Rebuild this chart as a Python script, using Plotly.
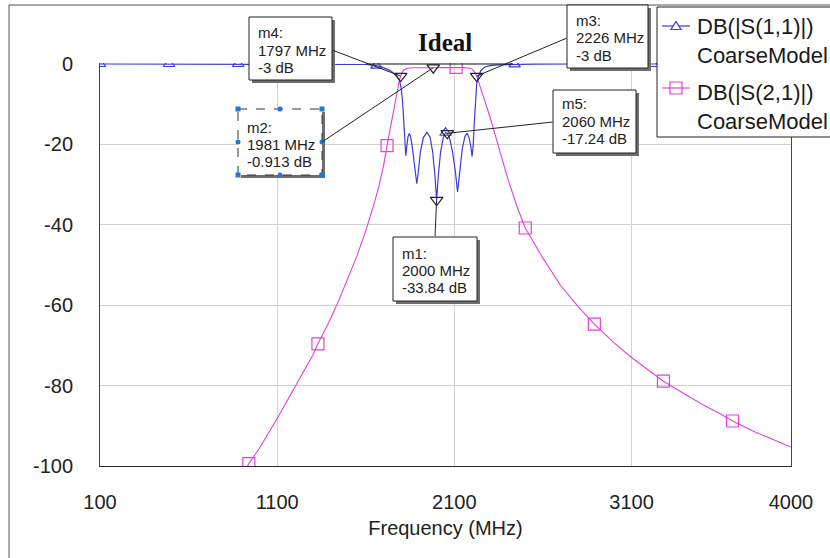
import plotly.graph_objects as go

# ---- filter response data (frequency in MHz, level in dB) ----
s11_freq = [100, 490, 880, 1000, 1270, 1400, 1500, 1600, 1660, 1700, 1740, 1770, 1790,
            1800, 1808, 1815, 1821, 1826, 1832, 1838, 1845, 1853, 1862, 1872, 1881, 1888,
            1896, 1908, 1925, 1945, 1963, 1978, 1990, 2000, 2010, 2022, 2038, 2050, 2060,
            2075, 2090, 2105, 2118, 2130, 2145, 2160, 2172, 2183, 2193, 2200, 2206, 2212,
            2219, 2226, 2235, 2250, 2270, 2300, 2350, 2440, 2550, 2830, 3220, 3610, 4000]
s11_db = [0, 0, 0, 0, 0, -0.01, -0.03, -0.12, -0.4, -0.9, -1.7, -2.8, -4.0,
          -6.0, -9.5, -14.0, -19.5, -22.8, -20.3, -18.2, -17.3, -18.0, -20.5, -24.5, -28.0, -29.8,
          -27.0, -22.0, -18.3, -17.0, -18.2, -22.0, -27.5, -33.84, -27.5, -22.0, -18.2, -17.1, -17.24,
          -18.8, -22.0, -26.5, -31.8, -26.5, -21.0, -18.0, -17.2, -18.3, -20.5, -23.0, -20.5, -15.0,
          -9.0, -5.0, -3.2, -1.6, -0.8, -0.4, -0.2, -0.08, -0.03, 0, 0, 0, 0]

s21_freq = [700, 800, 900, 940, 1000, 1100, 1200, 1300, 1330, 1400, 1450, 1500, 1550, 1600,
            1624, 1650, 1675, 1700, 1720, 1735, 1750, 1765, 1780, 1790, 1797, 1805, 1815, 1833,
            1860, 1900, 1950, 1981, 2000, 2050, 2110, 2150, 2180, 2200, 2215, 2226, 2240, 2260,
            2284, 2300, 2320, 2358, 2400, 2450, 2500, 2600, 2700, 2800, 2890, 3000, 3100, 3200,
            3280, 3400, 3500, 3600, 3670, 3800, 3900, 4000]
s21_db = [-118.0, -110.3, -102.9, -99.4, -95.6, -88.2, -80.4, -72.5, -69.6, -63.5, -58.6, -53.4, -47.8, -41.5,
          -38.3, -34.3, -30.2, -25.4, -20.3, -16.8, -13.0, -10.0, -5.9, -4.0, -3.0, -2.1, -1.5, -1.05,
          -0.92, -0.86, -0.88, -0.913, -0.9, -0.86, -0.85, -0.9, -1.0, -1.3, -2.0, -3.0, -4.9, -7.5,
          -10.7, -13.0, -16.0, -21.6, -28.3, -35.0, -40.8, -48.3, -55.1, -60.4, -64.7, -69.3, -73.0, -76.3,
          -78.9, -82.1, -84.7, -87.0, -88.8, -91.6, -93.5, -95.3]

# frequencies where the trace symbols sit
s11_symbol_freq = [100, 490, 880, 1270, 1660, 2050, 2440, 2830, 3220, 3610, 4000]
s21_symbol_freq = [940, 1330, 1720, 2110, 2500, 2890, 3280, 3670]

# ideal passband reference
ideal_freq = [1600, 2430]
ideal_db = [0, 0]

# readout markers
marker_names = ["m1", "m2", "m3", "m4", "m5"]
marker_freq = [2000, 1981, 2226, 1797, 2060]
marker_db = [-33.84, -0.913, -3, -3, -17.24]

x_ticks = [100, 1100, 2100, 3100, 4000]
y_ticks = [0, -20, -40, -60, -80, -100]

legend_lines = [["DB(|S(1,1)|)", "CoarseModel"], ["DB(|S(2,1)|)", "CoarseModel"]]

BLUE = "#3c3cdc"
MAGENTA = "#e040e0"
FONT = "Liberation Sans, Arial, sans-serif"

# ---- page geometry (pixels) ----
W, H = 830, 558
PL, PR, PT, PB = 100, 791, 63, 466
X_RANGE = [100, 4000]
Y_RANGE = [-100, 0.25]


def xp(px):
    return (px - PL) / (PR - PL)


def yp(py):
    return (PB - py) / (PB - PT)


def xd(px):
    return X_RANGE[0] + (px - PL) * (X_RANGE[1] - X_RANGE[0]) / (PR - PL)


def yd(py):
    return Y_RANGE[0] + (PB - py) * (Y_RANGE[1] - Y_RANGE[0]) / (PB - PT)


s11_lookup = dict(zip(s11_freq, s11_db))
s21_lookup = dict(zip(s21_freq, s21_db))

fig = go.Figure()

fig.add_trace(go.Scatter(x=s21_freq, y=s21_db, mode="lines",
                         line=dict(color=MAGENTA, width=1.1), showlegend=False,
                         name="DB(|S(2,1)|) CoarseModel"))
fig.add_trace(go.Scatter(x=s21_symbol_freq, y=[s21_lookup[f] for f in s21_symbol_freq],
                         mode="markers", showlegend=False,
                         marker=dict(symbol="square-open", size=12, color=MAGENTA,
                                     line=dict(width=1.2, color=MAGENTA))))
fig.add_trace(go.Scatter(x=s11_freq, y=s11_db, mode="lines",
                         line=dict(color=BLUE, width=1.2), showlegend=False,
                         name="DB(|S(1,1)|) CoarseModel"))
fig.add_trace(go.Scatter(x=s11_symbol_freq, y=[s11_lookup[f] for f in s11_symbol_freq],
                         mode="markers", showlegend=False,
                         marker=dict(symbol="triangle-up-open", size=10, color=BLUE,
                                     line=dict(width=1.2, color=BLUE))))
fig.add_trace(go.Scatter(x=ideal_freq, y=ideal_db, mode="lines",
                         line=dict(color="#111111", width=1.2), showlegend=False))
fig.add_trace(go.Scatter(x=marker_freq, y=marker_db, mode="markers", showlegend=False,
                         marker=dict(symbol="triangle-down-open", size=11, color="#222222",
                                     line=dict(width=1.2, color="#222222"))))

shapes = []
annotations = []

# outer frame of the graph window
shapes.append(dict(type="rect", xref="paper", yref="paper",
                   x0=xp(9), x1=xp(W + 40), y0=yp(5), y1=yp(H + 40),
                   line=dict(color="#555555", width=1), fillcolor="rgba(0,0,0,0)", layer="below"))

# marker readout boxes: pixel box, first text line centre, leader start
boxes = {
    "m4": dict(box=(249, 17, 332, 80), line0=33, tail=(332, 50)),
    "m3": dict(box=(567, 5, 648, 68), line0=21, tail=(567, 38)),
    "m5": dict(box=(553, 90, 636, 153), line0=104, tail=(553, 122)),
    "m2": dict(box=(238, 109, 322, 175), line0=127, tail=(322, 142), selected=True),
    "m1": dict(box=(393, 237, 477, 301), line0=253, tail=(435, 237)),
}

for name, f, v in zip(marker_names, marker_freq, marker_db):
    b = boxes[name]
    x0, y0, x1, y1 = b["box"]
    # leader line from the box to the marker
    annotations.append(dict(x=f, y=v, xref="x", yref="y", axref="x", ayref="y",
                            ax=xd(b["tail"][0]), ay=yd(b["tail"][1]),
                            text=" ", font=dict(size=1), borderpad=0,
                            showarrow=True, arrowhead=0, arrowwidth=1, arrowcolor="#222222"))
    # drop shadow
    shapes.append(dict(type="rect", xref="paper", yref="paper",
                       x0=xp(x0 + 3), x1=xp(x1 + 3), y0=yp(y0 + 3), y1=yp(y1 + 3),
                       line=dict(width=0), fillcolor="#6e6e6e", layer="above"))
    if b.get("selected"):
        shapes.append(dict(type="rect", xref="paper", yref="paper",
                           x0=xp(x0), x1=xp(x1), y0=yp(y0), y1=yp(y1),
                           line=dict(color="#333333", width=1, dash="dash"),
                           fillcolor="white", layer="above"))
        xm, ym = (x0 + x1) / 2, (y0 + y1) / 2
        for hx, hy in [(x0, y0), (x1, y0), (x0, y1), (x1, y1)]:
            shapes.append(dict(type="rect", xref="paper", yref="paper",
                               x0=xp(hx - 2.5), x1=xp(hx + 2.5), y0=yp(hy - 2.5), y1=yp(hy + 2.5),
                               line=dict(width=0), fillcolor="#1f78d1", layer="above"))
        for hx, hy in [(xm, y0), (x0, ym), (x1, ym), (xm, y1)]:
            shapes.append(dict(type="circle", xref="paper", yref="paper",
                               x0=xp(hx - 2.5), x1=xp(hx + 2.5), y0=yp(hy - 2.5), y1=yp(hy + 2.5),
                               line=dict(width=0), fillcolor="#1f78d1", layer="above"))
    else:
        shapes.append(dict(type="rect", xref="paper", yref="paper",
                           x0=xp(x0), x1=xp(x1), y0=yp(y0), y1=yp(y1),
                           line=dict(color="#222222", width=1),
                           fillcolor="white", layer="above"))
    lines = [f"{name}:", f"{f} MHz", f"{v:g} dB"]
    for i, txt in enumerate(lines):
        annotations.append(dict(x=xp(x0 + 7), y=yp(b["line0"] + 17 * i), xref="paper", yref="paper",
                                text=txt, showarrow=False, xanchor="left", yanchor="middle",
                                font=dict(family=FONT, size=15, color="#222222")))

# title over the passband
annotations.append(dict(x=xp(445), y=yp(42), xref="paper", yref="paper", text="<b>Ideal</b>",
                        showarrow=False, xanchor="center", yanchor="middle",
                        font=dict(family="Liberation Serif, Times New Roman, serif", size=25,
                                  color="#111111")))

# legend box
shapes.append(dict(type="rect", xref="paper", yref="paper",
                   x0=xp(657), x1=xp(W + 30), y0=yp(7), y1=yp(137),
                   line=dict(color="#222222", width=1), fillcolor="white", layer="above"))
# legend sample: S11
shapes.append(dict(type="line", xref="paper", yref="paper",
                   x0=xp(662), x1=xp(690), y0=yp(26), y1=yp(26),
                   line=dict(color=BLUE, width=1.2), layer="above"))
shapes.append(dict(type="path", xref="paper", yref="paper",
                   path=f"M {xp(671)},{yp(29.5)} L {xp(681)},{yp(29.5)} L {xp(676)},{yp(21.5)} Z",
                   line=dict(color=BLUE, width=1.2), fillcolor="white", layer="above"))
# legend sample: S21
shapes.append(dict(type="line", xref="paper", yref="paper",
                   x0=xp(662), x1=xp(690), y0=yp(88), y1=yp(88),
                   line=dict(color=MAGENTA, width=1.2), layer="above"))
shapes.append(dict(type="rect", xref="paper", yref="paper",
                   x0=xp(670), x1=xp(682), y0=yp(82), y1=yp(94),
                   line=dict(color=MAGENTA, width=1.2), fillcolor="rgba(0,0,0,0)", layer="above"))
legend_y = [[26.5, 55], [92, 121]]
for entry, ys in zip(legend_lines, legend_y):
    for txt, yy in zip(entry, ys):
        annotations.append(dict(x=xp(695), y=yp(yy), xref="paper", yref="paper", text=txt,
                                showarrow=False, xanchor="left", yanchor="middle",
                                font=dict(family=FONT, size=22, color="#1a1a1a")))

fig.update_layout(
    width=W, height=H,
    margin=dict(l=PL, r=W - PR, t=PT, b=H - PB, autoexpand=False),
    paper_bgcolor="white", plot_bgcolor="white",
    showlegend=False,
    shapes=shapes, annotations=annotations,
    font=dict(family=FONT, color="#222222"),
    xaxis=dict(range=X_RANGE, tickvals=x_ticks, ticktext=[str(t) for t in x_ticks],
               showgrid=True, gridcolor="#d2d2d2", gridwidth=1, zeroline=False,
               showline=True, linecolor="#2a2a2a", linewidth=1, mirror=False,
               ticks="", ticklabelstandoff=18, tickfont=dict(family=FONT, size=20, color="#222222"),
               title=dict(text="Frequency (MHz)", standoff=8,
                          font=dict(family=FONT, size=20, color="#222222"))),
    yaxis=dict(range=Y_RANGE, tickvals=y_ticks, ticktext=[str(t) for t in y_ticks],
               showgrid=True, gridcolor="#d2d2d2", gridwidth=1, zeroline=False,
               showline=True, linecolor="#444444", linewidth=1, mirror=True,
               ticks="", ticklabelstandoff=22, tickfont=dict(family=FONT, size=20, color="#222222")),
)

fig.write_html("out.html")
